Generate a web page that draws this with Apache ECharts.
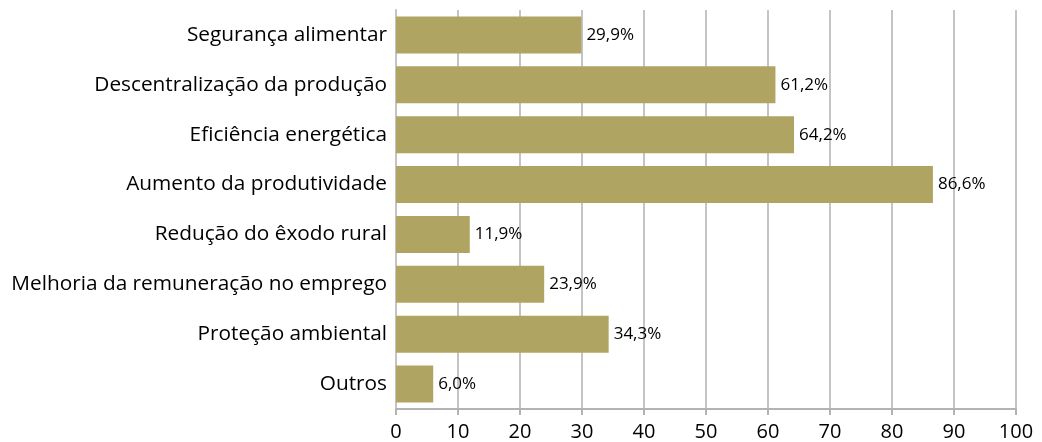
<!DOCTYPE html>
<html>
<head>
<meta charset="utf-8">
<script src="https://cdn.jsdelivr.net/npm/echarts@6/dist/echarts.min.js"></script>
<style>
  html, body { margin: 0; padding: 0; background: #fff; }
  #chart { width: 1042px; height: 442px; }
</style>
</head>
<body>
<div id="chart"></div>
<script>
// categories top to bottom
const categories = [
  'Segurança alimentar',
  'Descentralização da produção',
  'Eficiência energética',
  'Aumento da produtividade',
  'Redução do êxodo rural',
  'Melhoria da remuneração no emprego',
  'Proteção ambiental',
  'Outros'
]
const values = [29.9, 61.2, 64.2, 86.6, 11.9, 23.9, 34.3, 6.0]

const chart = echarts.init(document.getElementById('chart'))
chart.setOption({
  animation: false,
  textStyle: { fontFamily: 'Open Sans' },
  grid: {
    left: 396,
    right: 26,
    top: 10,
    bottom: 32
  },
  xAxis: {
    type: 'value',
    min: 0,
    max: 100,
    interval: 10,
    axisLine: { show: true, lineStyle: { color: '#b3b3b3', width: 2 } },
    axisTick: { show: true, length: 6, lineStyle: { color: '#b3b3b3', width: 2 } },
    axisLabel: { color: '#000', fontSize: 20, margin: 13 },
    splitLine: { show: true, lineStyle: { color: '#c4c4c4', width: 2 } }
  },
  yAxis: {
    type: 'category',
    inverse: true,
    data: categories,
    axisLine: { show: true, lineStyle: { color: '#c4c4c4', width: 2 } },
    axisTick: { show: false },
    axisLabel: { color: '#000', fontSize: 20.8, margin: 9 }
  },
  series: [{
    type: 'bar',
    data: values,
    barCategoryGap: '26%',
    itemStyle: { color: '#afa461' },
    label: {
      show: true,
      position: 'right',
      distance: 5,
      color: '#000',
      fontSize: 17,
      formatter: p => p.value.toFixed(1).replace('.', ',') + '%'
    }
  }]
})
</script>
</body>
</html>
